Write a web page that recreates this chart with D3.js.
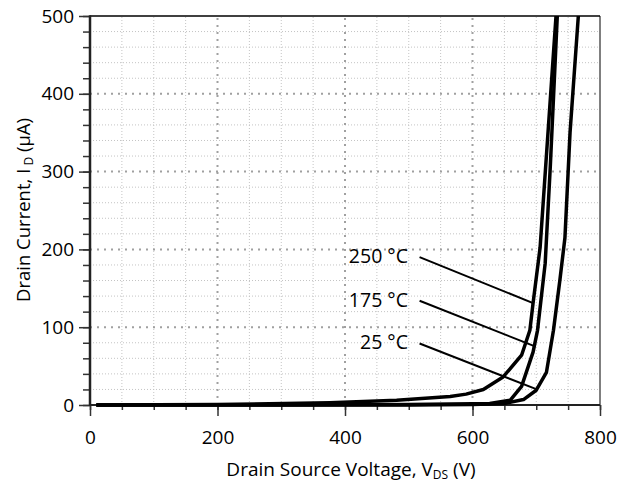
<!DOCTYPE html>
<html>
<head>
<meta charset="utf-8">
<script src="https://cdn.jsdelivr.net/npm/d3@7"></script>
<style>
body { margin: 0; background: #fff; }
text { font-family: "Open Sans", sans-serif; fill: #000; }
</style>
</head>
<body>
<svg id="chart" width="629" height="482"></svg>
<script>
// curve data: drain source voltage (V) vs drain current (uA)
var v250 = [10, 200, 376, 481, 565, 590, 617, 648, 677, 690, 695, 706, 731];
var i250 = [0, 0.5, 3, 6, 11, 14, 20, 36, 64, 96, 131, 202, 500];

var v175 = [10, 300, 500, 600, 627, 659, 677, 695, 702, 714, 722, 733];
var i175 = [0, 0, 0.5, 1.5, 2, 6, 24, 68, 96, 182, 306, 500];

var v25 = [10, 300, 500, 600, 650, 680, 700, 716, 727, 737, 745, 753, 766];
var i25 = [0, 0, 0, 0.5, 2, 7, 19, 42, 96, 160, 215, 350, 500];

var seriesNames = ["250 °C", "175 °C", "25 °C"];
// leader lines: from label (V, uA) to point on curve (V, uA)
var leaderFrom = [[517, 190], [517, 134], [517, 79]];
var leaderTo = [[695, 131], [696, 76], [701, 20]];

var xMajor = [0, 200, 400, 600, 800];
var yMajor = [0, 100, 200, 300, 400, 500];

var svg = d3.select('#chart');

var x = d3.scaleLinear().domain([0, 800]).range([90, 600]);
var y = d3.scaleLinear().domain([0, 500]).range([405, 16]);

var xMinor = d3.range(0, 801, 50);
var yMinor = d3.range(0, 501, 20);

/* GRID */
var grid = svg.append('g');

grid.selectAll('line.vmin')
  .data(xMinor.filter(d => d % 200 != 0))
  .enter().append('line')
  .attr('x1', d => x(d)).attr('x2', d => x(d))
  .attr('y1', y(0)).attr('y2', y(500))
  .style('stroke', '#c4c4c4')
  .style('stroke-width', 1)
  .style('stroke-dasharray', '1,2');

grid.selectAll('line.hmin')
  .data(yMinor.filter(d => d % 100 != 0))
  .enter().append('line')
  .attr('y1', d => y(d)).attr('y2', d => y(d))
  .attr('x1', x(0)).attr('x2', x(800))
  .style('stroke', '#c4c4c4')
  .style('stroke-width', 1)
  .style('stroke-dasharray', '1,2');

grid.selectAll('line.vmaj')
  .data([200, 400, 600])
  .enter().append('line')
  .attr('x1', d => x(d)).attr('x2', d => x(d))
  .attr('y1', y(0)).attr('y2', y(500))
  .style('stroke', '#a0a0a0')
  .style('stroke-width', 2)
  .style('stroke-dasharray', '2,5');

grid.selectAll('line.hmaj')
  .data([100, 200, 300, 400])
  .enter().append('line')
  .attr('y1', d => y(d)).attr('y2', d => y(d))
  .attr('x1', x(0)).attr('x2', x(800))
  .style('stroke', '#a0a0a0')
  .style('stroke-width', 2)
  .style('stroke-dasharray', '2,5');

/* AXES */
var xAxisMinor = d3.axisBottom(x).tickValues(xMinor).tickSize(5).tickFormat('');
var xAxis = d3.axisBottom(x).tickValues(xMajor).tickSize(11).tickPadding(15);
var yAxisMinor = d3.axisLeft(y).tickValues(yMinor).tickSize(7).tickFormat('');
var yAxis = d3.axisLeft(y).tickValues(yMajor).tickSize(11).tickPadding(5);

function styleAxis(g) {
  g.select('.domain').remove();
  g.selectAll('line').style('stroke', '#333').style('stroke-width', 1.5);
  g.selectAll('text').style('font-size', '19px').style('font-family', '"Open Sans", sans-serif').style('fill', '#000');
}

svg.append('g').attr('transform', 'translate(0,' + y(0) + ')').call(xAxisMinor).call(styleAxis);
svg.append('g').attr('transform', 'translate(0,' + y(0) + ')').call(xAxis).call(styleAxis);
svg.append('g').attr('transform', 'translate(' + x(0) + ',0)').call(yAxisMinor).call(styleAxis);
svg.append('g').attr('transform', 'translate(' + x(0) + ',0)').call(yAxis).call(styleAxis);

// frame
svg.append('line').attr('x1', x(0)).attr('x2', x(800)).attr('y1', y(500)).attr('y2', y(500))
  .style('stroke', '#000').style('stroke-width', 1.5);
svg.append('line').attr('x1', x(800)).attr('x2', x(800)).attr('y1', y(500)).attr('y2', y(0))
  .style('stroke', '#000').style('stroke-width', 1);
svg.append('line').attr('x1', x(0)).attr('x2', x(0)).attr('y1', y(500) - 0.75).attr('y2', y(0) + 1)
  .style('stroke', '#222').style('stroke-width', 2.5);
svg.append('line').attr('x1', x(0)).attr('x2', x(800)).attr('y1', y(0)).attr('y2', y(0))
  .style('stroke', '#222').style('stroke-width', 2);

/* CURVES */
var line = d3.line()
  .x(d => x(d[0]))
  .y(d => y(d[1]));

var curves = [d3.zip(v250, i250), d3.zip(v175, i175), d3.zip(v25, i25)];

svg.append('g').selectAll('path')
  .data(curves)
  .enter().append('path')
  .attr('d', line)
  .style('fill', 'none')
  .style('stroke', '#000')
  .style('stroke-width', 3.5)
  .style('stroke-linejoin', 'round');

/* LABELS */
svg.append('g').selectAll('line')
  .data(d3.range(3))
  .enter().append('line')
  .attr('x1', i => x(leaderFrom[i][0])).attr('y1', i => y(leaderFrom[i][1]))
  .attr('x2', i => x(leaderTo[i][0])).attr('y2', i => y(leaderTo[i][1]))
  .style('stroke', '#000')
  .style('stroke-width', 2);

svg.append('g').selectAll('text')
  .data(d3.range(3))
  .enter().append('text')
  .attr('x', 408)
  .attr('y', i => y(leaderFrom[i][1]) - 1)
  .attr('dy', '0.35em')
  .attr('text-anchor', 'end')
  .style('font-size', '19.5px')
  .text(i => seriesNames[i]);

/* AXIS TITLES */
var xt = svg.append('text')
  .attr('x', 351).attr('y', 476)
  .attr('text-anchor', 'middle')
  .style('font-size', '19px');
xt.append('tspan').text('Drain Source Voltage, V');
xt.append('tspan').attr('dy', 3).style('font-size', '12px').text('DS');
xt.append('tspan').attr('dy', -3).text(' (V)');

var yt = svg.append('text')
  .attr('transform', 'translate(30,210) rotate(-90)')
  .attr('text-anchor', 'middle')
  .style('font-size', '18.5px');
yt.append('tspan').text('Drain Current, I');
yt.append('tspan').attr('dy', 3).style('font-size', '12px').text(' D');
yt.append('tspan').attr('dy', -3).text(' (µA)');
</script>
</body>
</html>
